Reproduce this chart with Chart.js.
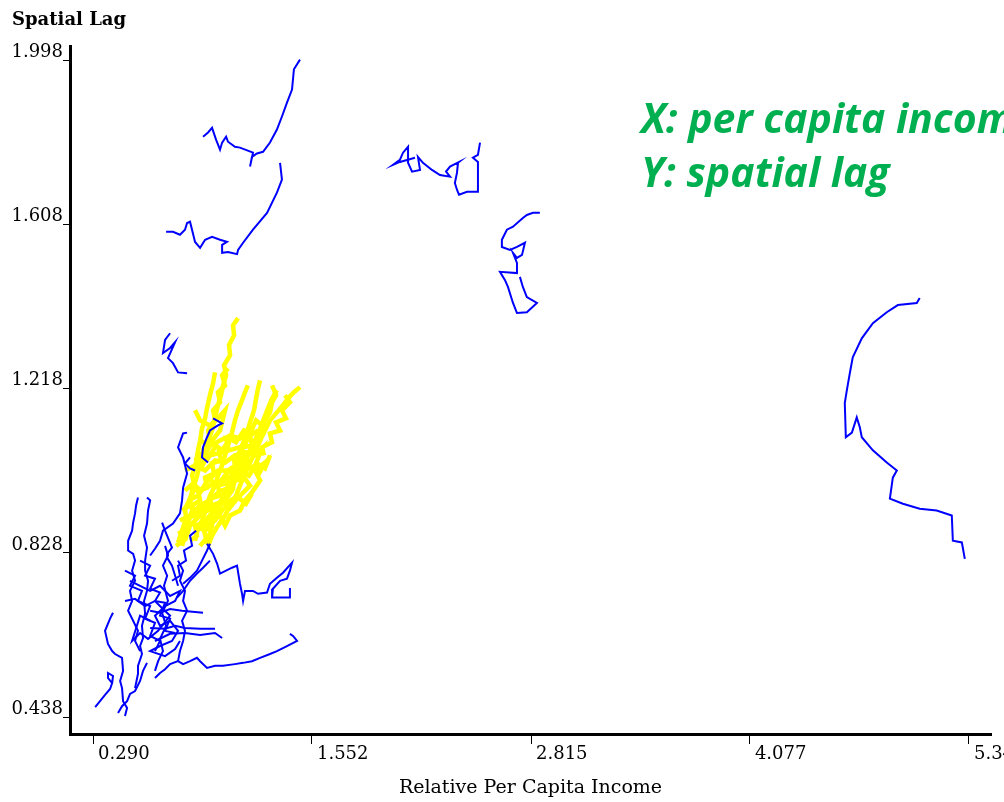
<!DOCTYPE html>
<html>
<head>
<meta charset="utf-8">
<script src="https://cdn.jsdelivr.net/npm/chart.js@4.4.0/dist/chart.umd.min.js"></script>
<style>
  body { margin: 0; background: #fff; }
  canvas { display: block; }
</style>
</head>
<body>
<canvas id="myChart" width="1004" height="802"></canvas>
<script>
// eixos
var xTicks = [0.290, 1.552, 2.815, 4.077, 5.340];
var xTickLabels = ['0.290', '1.552', '2.815', '4.077', '5.340'];
var yTicks = [0.438, 0.828, 1.218, 1.608, 1.998];
var yTickLabels = ['0.438', '0.828', '1.218', '1.608', '1.998'];
var notas = ['X: per capita income', 'Y: spatial lag'];

// trajetorias azuis [renda, lag]
var azulTopo1 = [[1.483,2.000],[1.448,1.977],[1.437,1.929],[1.408,1.898],[1.379,1.865],[1.350,1.834],[1.310,1.803],[1.270,1.781],[1.235,1.777],[1.206,1.769],[1.195,1.746],[1.212,1.779],[1.137,1.791],[1.108,1.793],[1.068,1.805],[1.057,1.817],[1.034,1.803],[1.022,1.786],[0.999,1.810],[0.976,1.838],[0.953,1.827],[0.924,1.817]];
var azulTopo2 = [[1.368,1.755],[1.379,1.715],[1.350,1.684],[1.293,1.636],[1.212,1.596],[1.155,1.565],[1.126,1.548],[1.120,1.538],[1.068,1.543],[1.034,1.541],[1.034,1.560],[1.062,1.567],[1.022,1.572],[0.976,1.579],[0.936,1.572],[0.907,1.553],[0.878,1.567],[0.849,1.615],[0.832,1.612],[0.820,1.596],[0.791,1.584],[0.751,1.591],[0.711,1.591]];
var azulMeio1 = [[2.521,1.803],[2.509,1.774],[2.480,1.767],[2.509,1.757],[2.509,1.686],[2.446,1.686],[2.400,1.679],[2.388,1.691],[2.376,1.707],[2.388,1.731],[2.394,1.755],[2.400,1.757],[2.348,1.746],[2.325,1.734],[2.348,1.722],[2.290,1.726],[2.244,1.738],[2.192,1.755],[2.163,1.769],[2.175,1.738],[2.129,1.734],[2.106,1.755],[2.106,1.793],[2.077,1.779],[2.059,1.762],[2.019,1.750],[2.059,1.757],[2.146,1.767]];
var azulMeio2 = [[2.866,1.636],[2.826,1.636],[2.791,1.631],[2.768,1.624],[2.711,1.603],[2.676,1.596],[2.647,1.572],[2.647,1.555],[2.694,1.548],[2.734,1.555],[2.780,1.565],[2.763,1.536],[2.734,1.529],[2.711,1.541],[2.734,1.517],[2.734,1.493],[2.636,1.496],[2.665,1.476],[2.682,1.460],[2.711,1.422],[2.734,1.398],[2.791,1.400],[2.849,1.422],[2.791,1.436],[2.768,1.460],[2.751,1.484]];
var azulDireita = [[5.056,1.434],[5.039,1.422],[4.930,1.417],[4.866,1.400],[4.786,1.374],[4.722,1.338],[4.670,1.293],[4.653,1.255],[4.636,1.215],[4.624,1.184],[4.630,1.103],[4.665,1.114],[4.693,1.150],[4.711,1.126],[4.722,1.103],[4.786,1.072],[4.866,1.043],[4.924,1.024],[4.901,1.007],[4.884,0.957],[4.959,0.945],[5.056,0.933],[5.154,0.929],[5.241,0.917],[5.247,0.857],[5.299,0.853],[5.316,0.814]];
var azulLaco = [[0.734,1.350],[0.705,1.334],[0.693,1.303],[0.734,1.315],[0.763,1.329],[0.722,1.291],[0.751,1.279],[0.780,1.257],[0.832,1.255]];
var azulB1 = [[0.601,0.960],[0.619,0.953],[0.607,0.929],[0.601,0.898],[0.584,0.869],[0.601,0.841],[0.590,0.810],[0.590,0.786],[0.607,0.762],[0.601,0.738],[0.584,0.714],[0.590,0.684],[0.572,0.655],[0.578,0.626],[0.561,0.607],[0.572,0.588],[0.549,0.560],[0.549,0.541],[0.532,0.507]];
var azulB2 = [[0.549,0.960],[0.538,0.941],[0.532,0.922],[0.521,0.900],[0.515,0.881],[0.492,0.857],[0.492,0.834],[0.521,0.826],[0.532,0.810],[0.515,0.786],[0.532,0.762],[0.503,0.738],[0.515,0.714],[0.492,0.691],[0.521,0.667],[0.549,0.643],[0.532,0.619],[0.561,0.595]];
var azulB3 = [[0.405,0.686],[0.388,0.672],[0.359,0.643],[0.376,0.612],[0.400,0.595],[0.417,0.588],[0.457,0.579],[0.463,0.548],[0.446,0.524],[0.457,0.507],[0.463,0.476],[0.486,0.460],[0.474,0.441]];
var azulB4 = [[0.302,0.462],[0.330,0.476],[0.359,0.491],[0.388,0.505],[0.400,0.519],[0.376,0.531],[0.376,0.543],[0.405,0.536],[0.400,0.519]];
var azulB5 = [[0.434,0.448],[0.457,0.464],[0.486,0.476],[0.503,0.493],[0.532,0.500],[0.561,0.524],[0.578,0.548],[0.601,0.567]];
var azulB6 = [[0.647,0.531],[0.676,0.543],[0.705,0.552],[0.734,0.564],[0.780,0.571],[0.809,0.564],[0.849,0.571],[0.889,0.579],[0.907,0.571],[0.947,0.555],[0.993,0.560],[1.039,0.560],[1.108,0.564],[1.155,0.567],[1.206,0.571],[1.253,0.579],[1.310,0.588],[1.350,0.595],[1.408,0.607],[1.466,0.619],[1.443,0.631],[1.425,0.636]];
var azulB7 = [[0.619,0.691],[0.676,0.686],[0.734,0.695],[0.803,0.691],[0.878,0.688],[0.924,0.686]];
var azulB8 = [[0.619,0.650],[0.705,0.648],[0.763,0.655],[0.820,0.650],[0.907,0.648],[0.993,0.648]];
var azulB9 = [[0.647,0.619],[0.734,0.636],[0.820,0.638],[0.907,0.633],[0.993,0.638],[1.034,0.626]];
var azulB10 = [[0.503,0.762],[0.561,0.750],[0.619,0.738],[0.676,0.750],[0.734,0.726],[0.791,0.738],[0.763,0.714],[0.705,0.702],[0.647,0.679],[0.676,0.655],[0.734,0.667],[0.780,0.643],[0.745,0.619],[0.676,0.607],[0.619,0.595],[0.705,0.583],[0.763,0.600],[0.791,0.619]];
var azulB11 = [[0.474,0.714],[0.532,0.719],[0.590,0.702],[0.647,0.714],[0.693,0.695],[0.734,0.679],[0.665,0.643],[0.607,0.624],[0.561,0.638],[0.515,0.619],[0.561,0.679],[0.619,0.667]];
var azulB12 = [[0.705,0.845],[0.722,0.822],[0.693,0.798],[0.717,0.774],[0.699,0.750],[0.722,0.714],[0.688,0.686],[0.711,0.655],[0.676,0.624],[0.693,0.595],[0.665,0.571],[0.647,0.548]];
var azulB13 = [[0.780,0.810],[0.809,0.786],[0.791,0.762],[0.820,0.738],[0.809,0.714],[0.832,0.691],[0.803,0.667],[0.820,0.643],[0.809,0.619],[0.791,0.595],[0.780,0.571]];
var azulB14 = [[0.774,0.722],[0.809,0.738],[0.849,0.762],[0.889,0.779],[0.924,0.793],[0.964,0.810]];
var azulB15 = [[0.809,0.755],[0.849,0.769],[0.889,0.786],[0.918,0.810],[0.947,0.834],[0.964,0.850]];
var azulB16 = [[0.947,0.850],[0.982,0.826],[1.005,0.803],[1.022,0.779],[1.091,0.793],[1.120,0.798],[1.137,0.755],[1.149,0.731],[1.155,0.714],[1.166,0.738],[1.212,0.738],[1.241,0.731],[1.293,0.734],[1.310,0.755],[1.350,0.769],[1.385,0.781],[1.437,0.805],[1.425,0.786],[1.408,0.767],[1.368,0.762],[1.327,0.743],[1.322,0.722],[1.425,0.722],[1.425,0.745]];
var azulB17 = [[0.832,1.114],[0.809,1.112],[0.780,1.079],[0.809,1.055],[0.832,1.017],[0.809,0.983],[0.803,0.953],[0.791,0.922],[0.751,0.898],[0.693,0.881],[0.676,0.857],[0.647,0.838],[0.619,0.822]];
var azulB18 = [[0.982,1.148],[1.034,1.136],[1.010,1.131],[0.964,1.119],[0.947,1.103],[0.924,1.079],[0.918,1.055],[0.953,1.043]];
var azulB19 = [[0.849,1.055],[0.820,1.041],[0.849,1.029],[0.878,1.024]];
var azulB20 = [[0.688,0.900],[0.705,0.881],[0.722,0.864],[0.745,0.841],[0.722,0.829],[0.717,0.817],[0.745,0.798],[0.763,0.774],[0.780,0.750]];
var azulB21 = [[0.561,0.810],[0.619,0.798],[0.590,0.774],[0.647,0.767],[0.619,0.743],[0.676,0.734],[0.647,0.714],[0.705,0.710],[0.676,0.679],[0.734,0.672],[0.705,0.643],[0.763,0.638]];
var azulB22 = [[0.474,0.786],[0.532,0.774],[0.503,0.750],[0.572,0.738],[0.549,0.714],[0.619,0.702],[0.590,0.672],[0.647,0.662],[0.619,0.631],[0.676,0.619],[0.647,0.595]];
var azulB23 = [[0.745,0.762],[0.791,0.774],[0.780,0.798],[0.826,0.810],[0.814,0.834],[0.861,0.845],[0.849,0.869],[0.884,0.881]];

// trajetorias amarelas
var amarelo1 = [[0.780,0.853],[0.803,0.881],[0.826,0.910],[0.820,0.933],[0.849,0.957],[0.866,0.981],[0.889,1.010],[0.907,1.043],[0.936,1.072],[0.953,1.095],[0.976,1.119],[0.993,1.148],[1.010,1.179],[1.028,1.203],[1.039,1.226],[1.057,1.250],[1.045,1.274],[1.080,1.298],[1.074,1.322],[1.103,1.345],[1.097,1.369],[1.126,1.386]];
var amarelo2 = [[0.803,0.845],[0.820,0.869],[0.838,0.900],[0.861,0.929],[0.849,0.957],[0.878,0.983],[0.861,1.012],[0.884,1.043],[0.895,1.072],[0.907,1.095],[0.918,1.124],[0.936,1.148],[0.947,1.172],[0.964,1.203],[0.982,1.231],[0.993,1.257]];
var amarelo3 = [[0.878,0.857],[0.895,0.886],[0.924,0.910],[0.947,0.941],[0.964,0.964],[0.993,0.988],[1.010,1.012],[1.034,1.036],[1.051,1.060],[1.068,1.083],[1.091,1.114],[1.108,1.143],[1.126,1.167],[1.149,1.191],[1.166,1.210],[1.183,1.226]];
var amarelo4 = [[0.936,0.850],[0.964,0.876],[0.982,0.905],[1.010,0.929],[1.034,0.953],[1.057,0.976],[1.080,1.005],[1.108,1.029],[1.126,1.060],[1.149,1.083],[1.172,1.107],[1.195,1.138],[1.218,1.167],[1.230,1.195],[1.241,1.219],[1.253,1.238]];
var amarelo5 = [[0.953,0.845],[0.976,0.869],[1.010,0.893],[1.051,0.917],[1.080,0.941],[1.114,0.964],[1.137,0.988],[1.166,1.017],[1.195,1.043],[1.224,1.067],[1.253,1.095],[1.281,1.119],[1.310,1.143],[1.350,1.162],[1.385,1.179],[1.414,1.195],[1.448,1.210],[1.483,1.222]];
var amarelo6 = [[0.907,0.881],[0.941,0.905],[0.976,0.924],[1.022,0.948],[1.057,0.972],[1.091,1.000],[1.126,1.024],[1.160,1.048],[1.195,1.072],[1.224,1.095],[1.253,1.124],[1.276,1.148],[1.299,1.172],[1.322,1.195],[1.350,1.215]];
var amarelo7 = [[0.791,0.905],[0.849,0.917],[0.907,0.941],[0.964,0.953],[1.022,0.976],[1.068,0.981],[1.108,1.000],[1.166,1.005],[1.195,0.988],[1.137,0.964],[1.080,0.953],[1.034,0.929],[0.993,0.905],[0.936,0.893],[0.878,0.881]];
var amarelo8 = [[0.820,1.024],[0.878,1.036],[0.936,1.024],[0.993,1.048],[1.051,1.043],[1.108,1.060],[1.166,1.067],[1.224,1.060],[1.264,1.076],[1.224,1.036],[1.166,1.024],[1.108,1.012],[1.034,1.000],[0.964,0.988],[0.907,0.976],[0.849,0.981]];
var amarelo9 = [[0.838,0.953],[0.895,0.964],[0.953,1.000],[1.010,1.024],[1.068,1.024],[1.137,1.043],[1.091,0.976],[1.051,0.953],[0.976,0.941],[0.907,0.917],[0.849,0.893],[0.820,0.857]];
var amarelo10 = [[0.907,1.095],[0.964,1.083],[1.022,1.095],[1.080,1.107],[1.137,1.100],[1.195,1.119],[1.166,1.083],[1.108,1.076],[1.034,1.067],[0.964,1.060],[0.907,1.053]];
var amarelo11 = [[0.993,0.941],[1.051,0.893],[1.080,0.917],[1.137,0.929],[1.166,0.953],[1.206,0.972],[1.253,1.000],[1.224,1.024],[1.281,1.043],[1.241,1.012]];
var amarelo12 = [[0.878,1.167],[0.907,1.143],[0.964,1.131],[1.010,1.148],[1.051,1.167],[1.022,1.119],[0.976,1.095],[0.936,1.060]];
var amarelo13 = [[0.768,0.845],[0.809,0.857],[0.791,0.876],[0.838,0.886],[0.826,0.910],[0.878,0.917],[0.861,0.941],[0.907,0.953],[0.895,0.976],[0.947,0.983],[0.936,1.007],[0.987,1.017],[0.976,1.041],[1.028,1.048],[1.016,1.072],[1.068,1.079],[1.057,1.100],[1.108,1.095]];
var amarelo14 = [[0.849,0.857],[0.889,0.869],[0.878,0.893],[0.930,0.900],[0.918,0.924],[0.976,0.933],[0.964,0.957],[1.022,0.964],[1.010,0.988],[1.068,0.995],[1.057,1.019],[1.114,1.024],[1.103,1.048],[1.160,1.055],[1.149,1.079],[1.206,1.083],[1.195,1.107],[1.241,1.119]];
var amarelo15 = [[0.907,0.845],[0.941,0.862],[0.930,0.881],[0.976,0.891],[0.964,0.910],[1.016,0.919],[1.005,0.941],[1.057,0.950],[1.045,0.972],[1.097,0.981],[1.085,1.005],[1.137,1.012],[1.126,1.034],[1.178,1.041],[1.166,1.065],[1.218,1.072],[1.206,1.093],[1.264,1.100]];
var amarelo16 = [[0.803,0.929],[0.849,0.941],[0.895,0.924],[0.941,0.945],[0.987,0.929],[1.034,0.953],[1.080,0.936],[1.126,0.960],[1.172,0.945],[1.206,0.969]];
var amarelo17 = [[0.820,0.976],[0.866,0.993],[0.912,0.976],[0.959,1.005],[1.005,0.988],[1.051,1.012],[1.097,1.000],[1.143,1.024],[1.189,1.012],[1.235,1.041],[1.281,1.029],[1.310,1.060]];
var amarelo18 = [[0.878,1.048],[0.924,1.067],[0.953,1.053],[0.999,1.083],[1.034,1.072],[1.080,1.100],[1.114,1.091],[1.160,1.119],[1.195,1.112],[1.230,1.143],[1.264,1.131],[1.299,1.162]];
var amarelo19 = [[0.907,1.024],[0.936,1.048],[0.924,1.072],[0.964,1.095],[0.953,1.119],[0.993,1.143],[0.982,1.167],[1.022,1.186],[1.010,1.210],[1.051,1.226],[1.034,1.250],[1.068,1.267]];
var amarelo20 = [[1.108,1.000],[1.137,1.024],[1.166,1.036],[1.183,1.060],[1.212,1.076],[1.230,1.100],[1.264,1.119],[1.281,1.143],[1.310,1.162],[1.322,1.186],[1.345,1.203],[1.322,1.226]];
var amarelo21 = [[1.397,1.203],[1.425,1.186],[1.379,1.167],[1.402,1.148],[1.345,1.138],[1.368,1.119],[1.310,1.112],[1.322,1.091],[1.264,1.079],[1.276,1.060]];

var trilhasAzuis = [azulTopo1, azulTopo2, azulMeio1, azulMeio2, azulDireita, azulLaco,
	azulB1, azulB2, azulB3, azulB4, azulB5, azulB6, azulB7, azulB8, azulB9, azulB10,
	azulB11, azulB12, azulB13, azulB14, azulB15, azulB16, azulB17, azulB18, azulB19, azulB20,
	azulB21, azulB22, azulB23];
var trilhasAmarelas = [amarelo1, amarelo2, amarelo3, amarelo4, amarelo5, amarelo6,
	amarelo7, amarelo8, amarelo9, amarelo10, amarelo11, amarelo12, amarelo13, amarelo14,
	amarelo15, amarelo16, amarelo17, amarelo18, amarelo19, amarelo20, amarelo21];

function serie(trilha, cor, largura, ordem){
	return {
		data: trilha.map(function(p){ return {x: p[0], y: p[1]}; }),
		showLine: true,
		borderColor: cor,
		backgroundColor: cor,
		borderWidth: largura,
		pointRadius: 0,
		tension: 0,
		order: ordem
	};
}

var datasets = [];
for (var i = 0; i < trilhasAzuis.length; i++){
	datasets.push(serie(trilhasAzuis[i], '#0000ff', 2, 0));
}
for (var j = 0; j < trilhasAmarelas.length; j++){
	datasets.push(serie(trilhasAmarelas[j], '#ffff00', 4.5, 1));
}

var fonteEixo = {family: 'DejaVu Serif', size: 18};

// texto verde por cima do grafico
var notaVerde = {
	id: 'notaVerde',
	afterDraw: function(chart){
		var ctx = chart.ctx;
		ctx.save();
		ctx.font = 'italic bold 41px "Open Sans"';
		ctx.fillStyle = '#00b050';
		ctx.textBaseline = 'alphabetic';
		ctx.fillText(notas[0], 641, 133);
		ctx.fillText(notas[1], 641, 187);
		ctx.restore();
	}
};

var ctx = document.getElementById('myChart');
var myChart = new Chart(ctx, {
	type: 'scatter',
	data: { datasets: datasets },
	options: {
		responsive: false,
		animation: false,
		layout: { padding: { left: 12, right: 13, top: 0, bottom: 0 } },
		plugins: {
			legend: { display: false },
			tooltip: { enabled: false },
			title: {
				display: true,
				text: 'Spatial Lag',
				align: 'start',
				color: '#000',
				font: { family: 'DejaVu Serif', size: 18, weight: 'bold' },
				padding: { top: 10, bottom: 15 }
			}
		},
		scales: {
			x: {
				type: 'linear',
				min: 0.157,
				max: 5.467,
				afterBuildTicks: function(ax){ ax.ticks = xTicks.map(function(v){ return {value: v}; }); },
				afterFit: function(ax){ ax.height = 68; ax.paddingLeft = 0; ax.paddingRight = 0; },
				grid: { drawOnChartArea: false, drawTicks: true, tickLength: 10, color: '#000', lineWidth: 1 },
				border: { display: true, color: '#000', width: 3 },
				ticks: {
					autoSkip: false, maxRotation: 0, align: 'start', labelOffset: 5, padding: 0,
					color: '#000', font: fonteEixo,
					callback: function(v, idx){ return xTickLabels[idx]; }
				},
				title: {
					display: true, text: 'Relative Per Capita Income', color: '#000',
					font: { family: 'DejaVu Serif', size: 19 }, padding: { top: 0, bottom: 3 }
				}
			},
			y: {
				type: 'linear',
				min: 0.398,
				max: 2.031,
				afterBuildTicks: function(ax){ ax.ticks = yTicks.map(function(v){ return {value: v}; }); },
				afterFit: function(ax){ ax.width = 58; ax.paddingTop = 0; ax.paddingBottom = 0; },
				grid: { drawOnChartArea: false, drawTicks: true, tickLength: 7, color: '#000', lineWidth: 1 },
				border: { display: true, color: '#000', width: 3 },
				ticks: {
					autoSkip: false, labelOffset: -8, padding: 0,
					color: '#000', font: fonteEixo,
					callback: function(v, idx){ return yTickLabels[idx]; }
				}
			}
		}
	},
	plugins: [notaVerde]
});
</script>
</body>
</html>
